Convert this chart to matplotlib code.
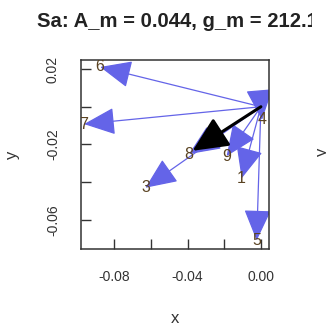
import matplotlib
matplotlib.use("Agg")
import matplotlib.pyplot as plt
from matplotlib.patches import FancyArrowPatch, Rectangle
import numpy as np

plt.rcParams['font.family'] = ['Liberation Sans', 'DejaVu Sans']

# vector end points (arrows start at the origin)
labels = ['1', '3', '4', '5', '6', '7', '8', '9']
xs = [-0.0105, -0.0630, 0.0006, -0.0023, -0.0877, -0.0965, -0.0392, -0.0187]
ys = [-0.0380, -0.0430, -0.0070, -0.0710, 0.0211, -0.0092, -0.0251, -0.0262]

# mean vector
A_m = 0.044
g_m = 212.1

xticks = [-0.08, -0.06, -0.04, -0.02, 0.00]
xticklabels = ['-0.08', '', '-0.04', '', '0.00']
yticks = [0.02, 0.00, -0.02, -0.04, -0.06]
yticklabels = ['0.02', '', '-0.02', '', '-0.06']

fig = plt.figure(figsize=(3.26, 3.25), dpi=100)
ax = fig.add_axes([0.2476, 0.2338, 0.5774, 0.5816])

blue = '#6464e8'
txt = '#333333'

for x, y in zip(xs, ys):
    ar = FancyArrowPatch((0, 0), (x, y), arrowstyle='-|>,head_length=0.55,head_width=0.24',
                         mutation_scale=36, shrinkA=0, shrinkB=0, lw=0.9,
                         color=blue, zorder=2)
    ax.add_patch(ar)

for x, y, s in zip(xs, ys, labels):
    ax.text(x, y, s, ha='center', va='center', fontsize=11.5, color='#5a4322',
            clip_on=True, zorder=3)

mx = A_m * np.cos(np.radians(g_m))
my = A_m * np.sin(np.radians(g_m))
ax.add_patch(FancyArrowPatch((0, 0), (mx, my), arrowstyle='-|>,head_length=0.6,head_width=0.28',
                             mutation_scale=36, shrinkA=0, shrinkB=0, lw=2.2,
                             color='black', zorder=4))

ax.set_xlim(-0.0983, 0.0044)
ax.set_ylim(-0.0755, 0.0248)

ax.set_xticks(xticks)
ax.set_xticklabels(xticklabels)
ax.set_yticks(yticks)
ax.set_yticklabels(yticklabels, rotation=90, va='center')
ax.tick_params(direction='in', length=7, width=1, colors=txt, labelsize=10, pad=15)
for sp in ax.spines.values():
    sp.set_color(txt)
    sp.set_linewidth(1.1)

ax.set_xlabel('x', fontsize=12, color=txt, va='center')
ax.xaxis.set_label_coords(0.5, -0.365)
ax.set_ylabel('y', fontsize=12, color=txt, va='center')
ax.yaxis.set_label_coords(-0.361, 0.5)

fig.text(177 / 326, 1 - 21.7 / 325, 'Sa: A_m = 0.044, g_m = 212.1', ha='center', va='center',
         fontsize=14.6, fontweight='bold', color='#222222')

# edge of the neighbouring panel
fig.patches.append(Rectangle((312 / 326, 0.82), 1, 0.2, transform=fig.transFigure,
                             facecolor='white', edgecolor='none', zorder=5))
fig.text(323 / 326, 1 - 152 / 325, 'y', rotation=90, ha='center', va='center',
         fontsize=12, color=txt)

fig.savefig('out.png', dpi=100)
